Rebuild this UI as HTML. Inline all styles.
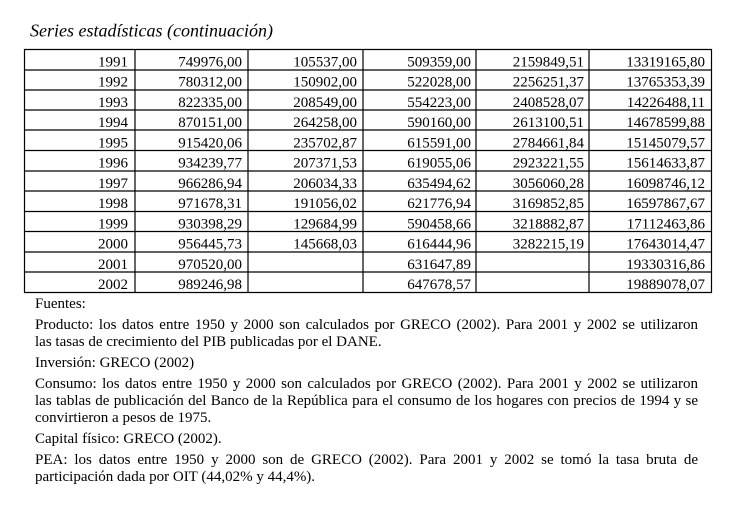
<!DOCTYPE html>
<html>
<head>
<meta charset="utf-8">
<style>
html,body{margin:0;padding:0;background:#fff;}
body{width:730px;height:517px;position:relative;overflow:hidden;font-family:"Liberation Serif","Times New Roman",serif;color:#000;}
svg{position:absolute;left:0;top:0;}
.n{position:absolute;left:35px;width:663px;font-size:15px;line-height:17px;white-space:nowrap;}
.j{text-align:justify;text-align-last:justify;white-space:normal;}
</style>
</head>
<body>
<svg width="730" height="300" viewBox="0 0 730 300" xmlns="http://www.w3.org/2000/svg">
<text x="30" y="36.5" font-family="Liberation Serif, serif" font-style="italic" font-size="18" fill="#000">Series estadísticas (continuación)</text>
<g stroke="#000" stroke-width="1.2" fill="none">
<line x1="24" y1="49.5" x2="712" y2="49.5"/>
<line x1="24" y1="70" x2="712" y2="70"/>
<line x1="24" y1="90" x2="712" y2="90"/>
<line x1="24" y1="110" x2="712" y2="110"/>
<line x1="24" y1="130" x2="712" y2="130"/>
<line x1="24" y1="150.5" x2="712" y2="150.5"/>
<line x1="24" y1="171" x2="712" y2="171"/>
<line x1="24" y1="191" x2="712" y2="191"/>
<line x1="24" y1="211.5" x2="712" y2="211.5"/>
<line x1="24" y1="231.5" x2="712" y2="231.5"/>
<line x1="24" y1="252" x2="712" y2="252"/>
<line x1="24" y1="272" x2="712" y2="272"/>
<line x1="24" y1="292.5" x2="712" y2="292.5"/>
<line x1="24.5" y1="49" x2="24.5" y2="293"/>
<line x1="135" y1="49" x2="135" y2="293"/>
<line x1="248" y1="49" x2="248" y2="293"/>
<line x1="363" y1="49" x2="363" y2="293"/>
<line x1="476" y1="49" x2="476" y2="293"/>
<line x1="589" y1="49" x2="589" y2="293"/>
<line x1="711.5" y1="49" x2="711.5" y2="293"/>
</g>
<g font-family="Liberation Serif, serif" font-size="15" fill="#000" text-anchor="end">
<g transform="translate(0,66.5)">
<text x="128">1991</text><text x="242">749976,00</text><text x="357">105537,00</text><text x="471">509359,00</text><text x="584">2159849,51</text><text x="705">13319165,80</text>
</g>
<g transform="translate(0,86.7)">
<text x="128">1992</text><text x="242">780312,00</text><text x="357">150902,00</text><text x="471">522028,00</text><text x="584">2256251,37</text><text x="705">13765353,39</text>
</g>
<g transform="translate(0,107)">
<text x="128">1993</text><text x="242">822335,00</text><text x="357">208549,00</text><text x="471">554223,00</text><text x="584">2408528,07</text><text x="705">14226488,11</text>
</g>
<g transform="translate(0,127.2)">
<text x="128">1994</text><text x="242">870151,00</text><text x="357">264258,00</text><text x="471">590160,00</text><text x="584">2613100,51</text><text x="705">14678599,88</text>
</g>
<g transform="translate(0,147.5)">
<text x="128">1995</text><text x="242">915420,06</text><text x="357">235702,87</text><text x="471">615591,00</text><text x="584">2784661,84</text><text x="705">15145079,57</text>
</g>
<g transform="translate(0,167.7)">
<text x="128">1996</text><text x="242">934239,77</text><text x="357">207371,53</text><text x="471">619055,06</text><text x="584">2923221,55</text><text x="705">15614633,87</text>
</g>
<g transform="translate(0,188)">
<text x="128">1997</text><text x="242">966286,94</text><text x="357">206034,33</text><text x="471">635494,62</text><text x="584">3056060,28</text><text x="705">16098746,12</text>
</g>
<g transform="translate(0,208.2)">
<text x="128">1998</text><text x="242">971678,31</text><text x="357">191056,02</text><text x="471">621776,94</text><text x="584">3169852,85</text><text x="705">16597867,67</text>
</g>
<g transform="translate(0,228.5)">
<text x="128">1999</text><text x="242">930398,29</text><text x="357">129684,99</text><text x="471">590458,66</text><text x="584">3218882,87</text><text x="705">17112463,86</text>
</g>
<g transform="translate(0,248.7)">
<text x="128">2000</text><text x="242">956445,73</text><text x="357">145668,03</text><text x="471">616444,96</text><text x="584">3282215,19</text><text x="705">17643014,47</text>
</g>
<g transform="translate(0,269)">
<text x="128">2001</text><text x="242">970520,00</text><text x="471">631647,89</text><text x="705">19330316,86</text>
</g>
<g transform="translate(0,289.2)">
<text x="128">2002</text><text x="242">989246,98</text><text x="471">647678,57</text><text x="705">19889078,07</text>
</g>
</g>
</svg>

<div class="n" style="top:296px;">Fuentes:</div>
<div class="n j" style="top:317px;">Producto: los datos entre 1950 y 2000 son calculados por GRECO (2002). Para 2001 y 2002 se utilizaron</div>
<div class="n" style="top:334px;">las tasas de crecimiento del PIB publicadas por el DANE.</div>
<div class="n" style="top:355px;">Inversión: GRECO (2002)</div>
<div class="n j" style="top:376px;">Consumo: los datos entre 1950 y 2000 son calculados por GRECO (2002). Para 2001 y 2002 se utilizaron</div>
<div class="n j" style="top:393px;">las tablas de publicación del Banco de la República para el consumo de los hogares con precios de 1994 y se</div>
<div class="n" style="top:410px;">convirtieron a pesos de 1975.</div>
<div class="n" style="top:431px;">Capital físico: GRECO (2002).</div>
<div class="n j" style="top:452px;">PEA: los datos entre 1950 y 2000 son de GRECO (2002). Para 2001 y 2002 se tomó la tasa bruta de</div>
<div class="n" style="top:469px;">participación dada por OIT (44,02% y 44,4%).</div>
</body>
</html>
